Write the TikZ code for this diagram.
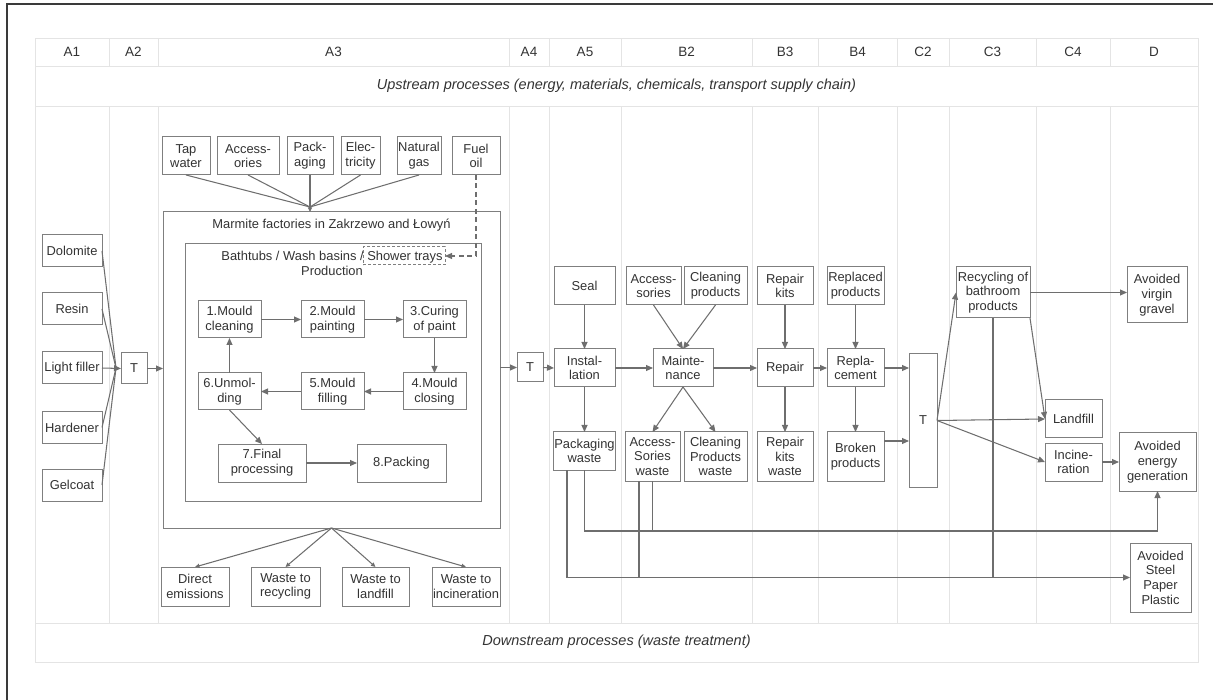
\documentclass[tikz,border=0pt]{standalone}
\usepackage{fontspec}
\setmainfont{Liberation Sans}
\usetikzlibrary{arrows.meta,calc}
\definecolor{gridc}{HTML}{E4E4E4}
\definecolor{boxc}{HTML}{7F7F7F}
\definecolor{linec}{HTML}{6E6E6E}
\definecolor{txtc}{HTML}{333333}
\definecolor{framec}{HTML}{3A3A3A}
\newcommand\mkbox[6]{\node[box, minimum width={(#4)-(#2)}, minimum height={(#5)-(#3)}] (#1) at ({((#2)+(#4))/2},{((#3)+(#5))/2}) {#6};}
\begin{document}
\begin{tikzpicture}[x=1pt,y=-1pt,
  box/.style={draw=boxc, line width=1pt, fill=white, text=txtc, align=center, inner sep=0.5pt, outer sep=0pt, font=\fontsize{12.9}{14.7}\selectfont},
  grp/.style={draw=boxc, line width=1pt, outer sep=0pt, inner sep=0pt},
  ttl/.style={text=txtc, align=center, inner sep=0pt, font=\fontsize{12.9}{14.7}\selectfont},
  ln/.style={draw=linec, line width=1.05pt},
  arr/.style={ln, -{Triangle[length=7pt,width=6pt]}},
  arrs/.style={ln, -{Triangle[length=4.5pt,width=4pt]}},
  dasharr/.style={arr, dash pattern=on 5pt off 3.5pt},
  gridln/.style={draw=gridc, line width=0.9pt},
  hdr/.style={text=txtc, font=\fontsize{13.5}{15}\selectfont, inner sep=0pt},
  rowtxt/.style={text=txtc, font=\fontsize{14.5}{16}\selectfont\itshape, inner sep=0pt},
]
\useasboundingbox (0,0) rectangle (1213,700);
% frame
\draw[framec, line width=1.5pt] (7,700) -- (7,4) -- (1213,4);
% grid
\draw[gridln] (35,38) rectangle (1198,662);
\foreach \yy in {66,106,623} \draw[gridln] (35,\yy) -- (1198,\yy);
\foreach \xx in {109,158,509,549,621,752,818,897,949,1036,1110} {
  \draw[gridln] (\xx,38) -- (\xx,66);
  \draw[gridln] (\xx,106) -- (\xx,623);
}
% headers
\node[hdr] (hA1) at (72,52) {A1};
\node[hdr] (hA2) at (133.5,52) {A2};
\node[hdr] (hA3) at (333.5,52) {A3};
\node[hdr] (hA4) at (529,52) {A4};
\node[hdr] (hA5) at (585,52) {A5};
\node[hdr] (hB2) at (686.5,52) {B2};
\node[hdr] (hB3) at (785,52) {B3};
\node[hdr] (hB4) at (857.5,52) {B4};
\node[hdr] (hC2) at (923,52) {C2};
\node[hdr] (hC3) at (992.5,52) {C3};
\node[hdr] (hC4) at (1073,52) {C4};
\node[hdr] (hD) at (1154,52) {D};
\node[rowtxt] (up) at (616.5,86) {Upstream processes (energy, materials, chemicals, transport supply chain)};
\node[rowtxt] (down) at (616.5,642) {Downstream processes (waste treatment)};

% A1 inputs
\mkbox{dolo}{42}{235}{102}{267}{Dolomite}
\mkbox{resin}{42}{293}{102}{325}{Resin}
\mkbox{light}{42}{352}{102}{384}{Light filler}
\mkbox{hard}{42}{412}{102}{443}{Hardener}
\mkbox{gel}{42}{469}{102}{501}{Gelcoat}
\mkbox{TA}{121}{353}{147}{384}{T}

% A3 factory
\node[grp, minimum width=337, minimum height=316] (marm) at (331.5,370) {};
\node[ttl] (marmt) at (331.5,225) {Marmite factories in Zakrzewo and Łowyń};
\node[grp, minimum width=296, minimum height=257] (prod) at (333,372.5) {};
\node[ttl] (prodt) at (332,263.5) {Bathtubs / Wash basins / Shower trays\\Production};
\node[draw=boxc, line width=1pt, dash pattern=on 3pt off 2pt, inner sep=0pt, outer sep=0pt, minimum width=82, minimum height=18] (shower) at (404,256) {};

\mkbox{tap}{162}{137}{210}{175}{Tap\\water}
\mkbox{accA}{217}{137}{279}{175}{Access-\\ories}
\mkbox{pack}{287}{137}{333}{175}{Pack-\\aging}
\mkbox{elec}{341}{137}{380}{175}{Elec-\\tricity}
\mkbox{gas}{397}{137}{441}{175}{Natural\\gas}
\mkbox{fuel}{452}{137}{500}{175}{Fuel\\oil}

\mkbox{p1}{198}{301}{261}{338}{1.Mould\\cleaning}
\mkbox{p2}{301}{301}{364}{338}{2.Mould\\painting}
\mkbox{p3}{403}{301}{466}{338}{3.Curing\\of paint}
\mkbox{p4}{403}{373}{466}{410}{4.Mould\\closing}
\mkbox{p5}{301}{373}{364}{410}{5.Mould\\filling}
\mkbox{p6}{198}{373}{261}{410}{6.Unmol-\\ding}
\mkbox{p7}{218}{444}{306}{482}{7.Final\\processing}
\mkbox{p8}{357}{444}{446}{482}{8.Packing}

\mkbox{dire}{161}{567}{229}{606}{Direct\\emissions}
\mkbox{wrec}{251}{567}{320}{606}{Waste to\\recycling}
\mkbox{wland}{342}{567}{409}{606}{Waste to\\landfill}
\mkbox{winc}{432}{567}{500}{606}{Waste to\\incineration}

% A4 - B4
\mkbox{TB}{517}{353}{543}{382}{T}
\mkbox{seal}{554}{267}{615}{305}{Seal}
\mkbox{inst}{554}{349}{615}{387}{Instal-\\lation}
\mkbox{pwaste}{554}{432}{615}{470}{Packaging\\waste}
\mkbox{accB}{626}{267}{681}{305}{Access-\\sories}
\mkbox{clean}{684}{267}{747}{305}{Cleaning\\products}
\mkbox{maint}{653}{349}{713}{387}{Mainte-\\nance}
\mkbox{accw}{625}{432}{680}{481}{Access-\\Sories\\waste}
\mkbox{cleanw}{684}{432}{747}{481}{Cleaning\\Products\\waste}
\mkbox{rkits}{757}{267}{813}{305}{Repair\\kits}
\mkbox{repair}{757}{349}{813}{387}{Repair}
\mkbox{rkw}{757}{432}{813}{481}{Repair\\kits\\waste}
\mkbox{repl}{827}{267}{884}{305}{Replaced\\products}
\mkbox{replc}{827}{349}{884}{387}{Repla-\\cement}
\mkbox{broken}{827}{432}{884}{481}{Broken\\products}

% C2 - D
\mkbox{TC}{909}{354}{937}{487}{T}
\mkbox{recyc}{956}{267}{1030}{318}{Recycling of\\bathroom\\products}
\mkbox{gravel}{1127}{267}{1187}{323}{Avoided\\virgin\\gravel}
\mkbox{landf}{1045}{400}{1102}{438}{Landfill}
\mkbox{incin}{1045}{443}{1102}{481}{Incine-\\ration}
\mkbox{energy}{1119}{433}{1196}{491}{Avoided\\energy\\generation}
\mkbox{steel}{1130}{543}{1191}{612}{Avoided\\Steel\\Paper\\Plastic}

% connectors: A1 -> T -> factory
\coordinate (cvl) at (116,368);
\draw[ln] (dolo.east) -- (cvl);
\draw[ln] (resin.east) -- (cvl);
\draw[ln] (hard.east) -- (cvl);
\draw[ln] (gel.east) -- (cvl);
\draw[arr] (light.east) -- (TA.west);
\draw[arr] (TA.east) -- (TA.east -| marm.west);

% top inputs
\coordinate (cvt) at (310,207);
\draw[ln] (tap.south) -- (cvt);
\draw[ln] (accA.south) -- (cvt);
\draw[ln] (elec.south) -- (cvt);
\draw[ln] (gas.south) -- (cvt);
\draw[arrs] (pack.south) -- (pack.south |- marm.north);
\draw[dasharr] (fuel.south) |- (shower.east);

% process chain
\draw[arr] (p1.east) -- (p2.west);
\draw[arr] (p2.east) -- (p3.west);
\draw[arr] (p3.south) -- (p4.north);
\draw[arr] (p4.west) -- (p5.east);
\draw[arr] (p5.west) -- (p6.east);
\draw[arr] (p6.north) -- (p1.south);
\draw[arr] (p6.south) -- (p7.north);
\draw[arr] (p7.east) -- (p8.west);

% factory outputs
\draw[arrs] (marm.south) -- (dire.north);
\draw[arrs] (marm.south) -- (wrec.north);
\draw[arrs] (marm.south) -- (wland.north);
\draw[arrs] (marm.south) -- (winc.north);

% use stage
\draw[arr] (marm.east |- TB.west) -- (TB.west);
\draw[arr] (TB.east) -- (inst.west);
\draw[arr] (seal.south) -- (inst.north);
\draw[arr] (inst.south) -- (pwaste.north);
\draw[arr] (inst.east) -- (maint.west);
\draw[arr] (accB.south) -- (maint.north);
\draw[arr] (clean.south) -- (maint.north);
\draw[arr] (maint.south) -- (accw.north);
\draw[arr] (maint.south) -- (cleanw.north);
\draw[arr] (maint.east) -- (repair.west);
\draw[arr] (rkits.south) -- (repair.north);
\draw[arr] (repair.south) -- (rkw.north);
\draw[arr] (repair.east) -- (replc.west);
\draw[arr] (repl.south) -- (replc.north);
\draw[arr] (replc.south) -- (broken.north);
\draw[arr] (replc.east) -- (replc.east -| TC.west);
\draw[arr] ([yshift=15.5pt]broken.east) -- ([yshift=15.5pt]broken.east -| TC.west);

% end of life
\draw[arr] (TC.east) -- (recyc.west);
\draw[arr] (TC.east) -- (landf.west);
\draw[arr] (TC.east) -- (incin.west);
\draw[arr] (recyc.south east) -- (landf.west);
\draw[arr] (recyc.east) -- (recyc.east -| gravel.west);
\draw[arr] (incin.east) -- (energy.west);

% long return lines
\draw[arr] (pwaste.south) -- (pwaste.south |- 0,531) -| (energy.south);
\draw[ln] (accw.south) -- (accw.south |- 0,531);
\draw[arr] ([xshift=-17.5pt]pwaste.south) |- (steel.west);
\draw[ln] ([xshift=-13.5pt]accw.south) -- ([xshift=-13.5pt]accw.south |- steel.west);
\draw[ln] (recyc.south) -- (recyc.south |- steel.west);
\end{tikzpicture}
\end{document}
